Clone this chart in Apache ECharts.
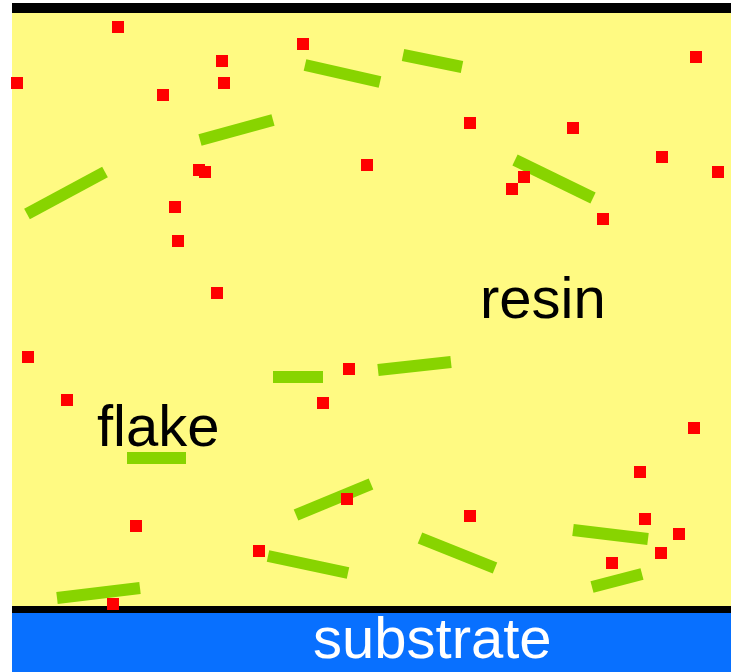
<!DOCTYPE html>
<html>
<head>
<meta charset="utf-8">
<script src="https://cdn.jsdelivr.net/npm/echarts@6/dist/echarts.min.js"></script>
<style>
html,body{margin:0;padding:0;background:#ffffff;}
#main{width:731px;height:672px;}
</style>
</head>
<body>
<div id="main"></div>
<script>
// Layers (depth along y, in diagram units)
const layerNames  = ['top boundary', 'resin', 'interface', 'substrate'];
const layerTop    = [3, 13, 606, 613];
const layerBottom = [13, 606, 613, 672];
const layerColors = ['#000000', '#FFFA82', '#000000', '#0870FF'];
const layerLeft = 12;
const layerRight = 731;

// Red particles (centre positions)
const particleX = [118, 303, 222, 17, 224, 163, 696, 470, 573, 662, 718, 367, 199, 205, 524, 512, 175, 603, 178, 217,
                   28, 349, 67, 323, 694, 640, 347, 470, 645, 136, 679, 661, 259, 612, 113];
const particleY = [27, 44, 61, 83, 83, 95, 57, 123, 128, 157, 172, 165, 170, 172, 177, 189, 207, 219, 241, 293,
                   357, 369, 400, 403, 428, 472, 499, 516, 519, 526, 534, 553, 551, 563, 604];

// Green flakes (end points)
const flakeX1 = [305, 403, 200, 27, 515, 273, 378, 127, 296, 268, 420, 573, 592, 57];
const flakeY1 = [65, 55, 140, 214, 160, 377, 370, 458, 515, 556, 538, 530, 587, 598];
const flakeX2 = [380, 462, 273, 105, 593, 323, 451, 186, 371, 348, 495, 648, 642, 140];
const flakeY2 = [82, 67, 120, 172, 198, 377, 362, 458, 484, 573, 568, 539, 574, 588];

// Text labels
const labelText = ['resin', 'flake', 'substrate'];
const labelX = [480, 97, 313];
const labelY = [302, 430, 642];
const labelColor = ['#000000', '#000000', '#ffffff'];

const layerData = layerNames.map((n, i) => ({name: n, value: [layerLeft, layerTop[i], layerRight, layerBottom[i]], itemStyle: {color: layerColors[i]}}));
const particleData = particleX.map((x, i) => [x, particleY[i]]);
const flakeData = flakeX1.map((x, i) => ({coords: [[x, flakeY1[i]], [flakeX2[i], flakeY2[i]]]}));

const chart = echarts.init(document.getElementById('main'), null, {renderer: 'canvas'});
chart.setOption({
  animation: false,
  backgroundColor: '#ffffff',
  grid: {left: 0, right: 0, top: 0, bottom: 0},
  xAxis: {type: 'value', min: 0, max: 731, show: false},
  yAxis: {type: 'value', min: 0, max: 672, inverse: true, show: false},
  series: [
    {
      type: 'custom',
      data: layerData,
      silent: true,
      z: 1,
      renderItem: function (params, api) {
        const p0 = api.coord([api.value(0), api.value(1)]);
        const p1 = api.coord([api.value(2), api.value(3)]);
        return {
          type: 'rect',
          shape: {x: p0[0], y: p0[1], width: p1[0] - p0[0], height: p1[1] - p0[1]},
          style: {fill: api.visual('color')}
        };
      }
    },
    {
      type: 'lines',
      coordinateSystem: 'cartesian2d',
      data: flakeData,
      silent: true,
      z: 3,
      lineStyle: {color: '#88D400', width: 12, opacity: 1, curveness: 0, cap: 'butt'}
    },
    {
      type: 'scatter',
      data: particleData,
      symbol: 'rect',
      symbolSize: 12,
      silent: true,
      z: 4,
      itemStyle: {color: '#FF0000', opacity: 1}
    }
  ],
  graphic: labelText.map((t, i) => ({
    type: 'text',
    x: labelX[i],
    y: labelY[i],
    z: 10,
    style: {
      text: t,
      fill: labelColor[i],
      font: '58px "Liberation Sans", Arial, sans-serif',
      textAlign: 'left',
      textVerticalAlign: 'middle',
      verticalAlign: 'middle'
    }
  }))
});
</script>
</body>
</html>
